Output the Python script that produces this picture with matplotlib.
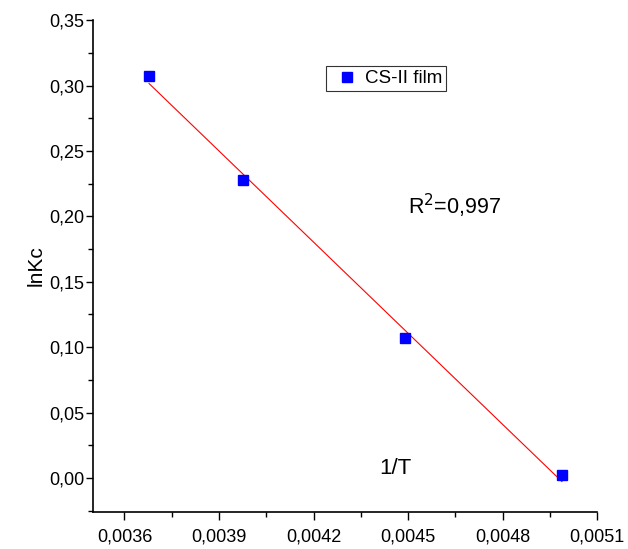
import matplotlib
matplotlib.use("Agg")
import matplotlib.pyplot as plt
import numpy as np
from matplotlib.ticker import FuncFormatter, MultipleLocator

plt.rcParams['font.family'] = ['Liberation Sans', 'DejaVu Sans']

# data
inv_T = [0.003678, 0.003977, 0.004489, 0.004988]
ln_kc = [0.307, 0.228, 0.107, 0.002]
series_label = "CS-II film"
r2_text = "R$^2$=0,997"

fig = plt.figure(figsize=(6.28, 5.49), dpi=100)
ax = fig.add_axes([0.148, 0.0674, 0.803, 0.896])

# linear fit
slope, intercept = np.polyfit(inv_T, ln_kc, 1)
xf = np.array([inv_T[0], inv_T[-1]])
ax.plot(xf, slope * xf + intercept, color='red', lw=0.8, zorder=2)
ax.plot(inv_T, ln_kc, 's', color='#0000FF', ms=6.5, label=series_label, zorder=3)

ax.set_xlim(0.0035, 0.0051)
ax.set_ylim(-0.026, 0.35)
ax.set_xticks([0.0036, 0.0039, 0.0042, 0.0045, 0.0048, 0.0051])
ax.xaxis.set_minor_locator(MultipleLocator(0.00015))
ax.yaxis.set_major_locator(MultipleLocator(0.05))
ax.yaxis.set_minor_locator(MultipleLocator(0.025))

ax.xaxis.set_major_formatter(FuncFormatter(lambda v, p: f"{v:.4f}".replace('.', ',')))
ax.yaxis.set_major_formatter(FuncFormatter(lambda v, p: f"{v:.2f}".replace('.', ',')))

for s in ['top', 'right']:
    ax.spines[s].set_visible(False)
for s in ['left', 'bottom']:
    ax.spines[s].set_linewidth(1.2)

ax.tick_params(which='major', direction='out', length=5, width=1, labelsize=13)
ax.tick_params(axis='x', which='major', length=6, pad=6)
ax.tick_params(axis='y', which='major', pad=1)
ax.tick_params(which='minor', direction='out', length=3.5, width=1)

ax.set_ylabel("lnKc", fontsize=15, labelpad=3)
ax.text(0.00451, -0.001, "1/T", fontsize=16, ha='right', va='bottom')
ax.text(0.00450, 0.197, r2_text, fontsize=15.5, ha='left', va='bottom')

leg = ax.legend(loc='upper left', bbox_to_anchor=(0.462, 0.906), fontsize=13.5,
                frameon=True, fancybox=False, handlelength=1.8, handletextpad=0.1,
                borderpad=0.2, borderaxespad=0)
leg.get_frame().set_edgecolor('black')
leg.get_frame().set_linewidth(0.8)

fig.savefig("out.png", dpi=100)
